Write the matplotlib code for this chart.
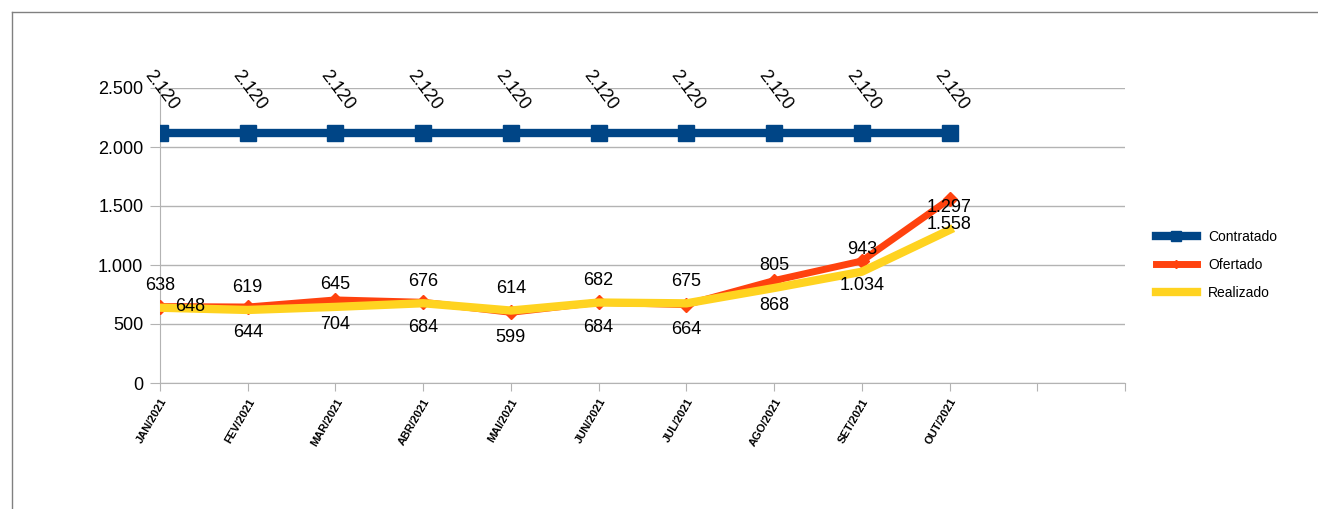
import matplotlib
matplotlib.use('Agg')
import matplotlib.pyplot as plt
from matplotlib.lines import Line2D
from matplotlib.ticker import FuncFormatter

plt.rcParams['font.family'] = ['Liberation Sans', 'DejaVu Sans']

# dados
meses = ['JAN/2021', 'FEV/2021', 'MAR/2021', 'ABR/2021', 'MAI/2021',
         'JUN/2021', 'JUL/2021', 'AGO/2021', 'SET/2021', 'OUT/2021']
contratado = [2120, 2120, 2120, 2120, 2120, 2120, 2120, 2120, 2120, 2120]
ofertado = [648, 644, 704, 684, 599, 684, 664, 868, 1034, 1558]
realizado = [638, 619, 645, 676, 614, 682, 675, 805, 943, 1297]


def fmt(v, pos=None):
    return f'{int(v):,}'.replace(',', '.')


azul = '#004586'
vermelho = '#ff420e'
amarelo = '#ffd320'
cinza = '#b3b3b3'

fig = plt.figure(figsize=(13.18, 5.09), dpi=100)
ax = fig.add_axes([160 / 1318, 1 - 383 / 509, (1125 - 160) / 1318, (383 - 88) / 509])

x = list(range(len(meses)))
ax.plot(x, contratado, color=azul, lw=6, marker='s', ms=11, label='Contratado', zorder=3)
ax.plot(x, ofertado, color=vermelho, lw=5, marker='D', ms=7, label='Ofertado', zorder=4)
ax.plot(x, realizado, color=amarelo, lw=6, label='Realizado', zorder=5)

# rótulos
for i, v in enumerate(contratado):
    ax.annotate(fmt(v), (i, v), xytext=(1, 31), textcoords='offset points',
                rotation=-53, ha='center', va='center', fontsize=13, zorder=6)
for i, v in enumerate(realizado):
    ax.annotate(fmt(v), (i, v), xytext=(0, 16), textcoords='offset points',
                ha='center', va='center', fontsize=13, zorder=6)
for i, v in enumerate(ofertado):
    if i == 0:
        off = (22, 0)
    else:
        off = (0, -18)
    ax.annotate(fmt(v), (i, v), xytext=off, textcoords='offset points',
                ha='center', va='center', fontsize=13, zorder=6)

ax.set_xlim(0, 11)
ax.set_ylim(0, 2500)
ax.set_xticks(range(12))
ax.set_xticklabels(meses + ['', ''], rotation=60, ha='right', va='top',
                   fontsize=8, fontweight='bold', rotation_mode='anchor')
ax.set_yticks([0, 500, 1000, 1500, 2000, 2500])
ax.yaxis.set_major_formatter(FuncFormatter(fmt))
ax.tick_params(axis='y', labelsize=13, length=7, color=cinza, pad=5)
ax.tick_params(axis='x', length=6, color=cinza, pad=4)
ax.grid(axis='y', color=cinza, lw=1)
ax.set_axisbelow(True)
for s in ['top', 'right']:
    ax.spines[s].set_visible(False)
for s in ['left', 'bottom']:
    ax.spines[s].set_color(cinza)

ax.legend(loc='center left', bbox_to_anchor=(1143 / 1318, 1 - 265 / 509),
          bbox_transform=fig.transFigure, frameon=False, fontsize=10,
          handlelength=3.0, markerscale=0.6, labelspacing=1.0)

# moldura
fig.add_artist(Line2D([12 / 1318, 1], [1 - 12 / 509, 1 - 12 / 509], color='#808080', lw=1))
fig.add_artist(Line2D([12 / 1318, 12 / 1318], [0, 1 - 12 / 509], color='#808080', lw=1))

fig.savefig('out.png', dpi=100)
